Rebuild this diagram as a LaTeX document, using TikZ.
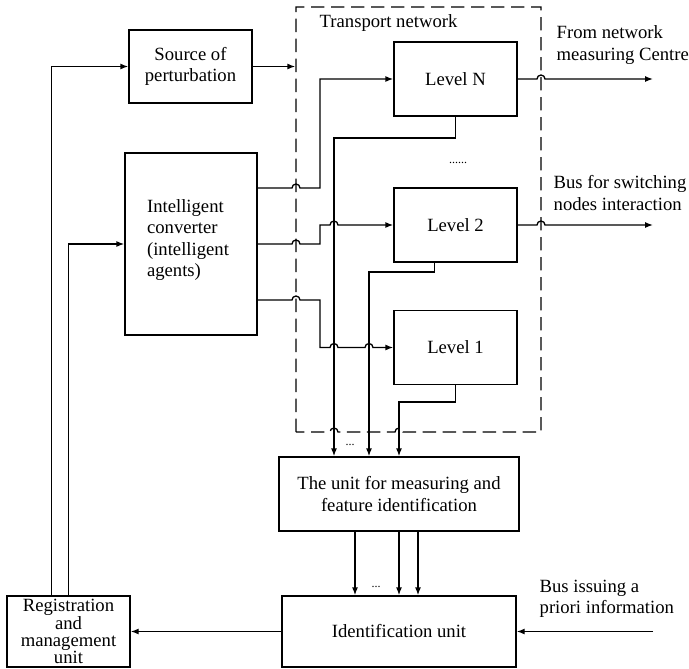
\documentclass[tikz,border=0pt]{standalone}
\usepackage{fontspec}
\setmainfont{Liberation Serif}
\usetikzlibrary{arrows.meta,fit}

\begin{document}
\begin{tikzpicture}[x=0.75pt, y=-0.75pt, line width=1pt,
        font=\fontsize{14}{16}\selectfont,
        block/.style = {draw, inner sep=0pt, align=center},
        level/.style = {block, minimum width=92.25pt, minimum height=55.5pt},
        lbl/.style = {inner sep=0pt, anchor=west, align=left},
        arr/.style = {-{Latex[length=6pt,width=4.5pt]}},
        dots/.style = {font=\fontsize{9}{10}\selectfont, inner sep=0pt},
        hop/.style = {start angle=180, end angle=0, radius=3pt}]
    \useasboundingbox (0,0) rectangle (689,668);

    % blocks
    \node[block, minimum width=92.25pt, minimum height=54.75pt] (src) at (190.5,66.5) {Source of\\perturbation};
    \node[block, minimum width=99pt, minimum height=136.5pt] (conv) at (191,244) {};
    \node[align=left, inner sep=0pt] (convtxt) at (188,240) {Intelligent\\converter\\(intelligent\\agents)};
    \node[level] (lvlN) at (455.5,79) {Level N};
    \node[level] (lvl2) at (455.5,225) {Level 2};
    \node[level] (lvl1) at (455.5,347.5) {Level 1};
    \node[block, minimum width=180pt, minimum height=55.5pt] (meas) at (399,494) {The unit for measuring and\\feature identification};
    \node[block, minimum width=175.5pt, minimum height=53.25pt] (ident) at (399,631.5) {Identification unit};
    \node[block, minimum width=92.25pt, minimum height=53.25pt,
          font=\fontsize{14}{12.8}\selectfont] (reg) at (68.5,631.5) {Registration\\and\\management\\unit};

    % transport network frame
    \node[fit={(296,7) (541,432)}, inner sep=0pt] (net) {};
    \draw[dash pattern=on 10pt off 5pt] (296,432) -- (296,7) -- (541,7) -- (541,432)
        -- (403,432) arc[start angle=0, end angle=180, radius=3pt]
        -- (338,432) arc[start angle=0, end angle=180, radius=3pt] -- cycle;
    \node[lbl] (netlbl) at (319,23) {Transport network};

    % bus labels
    \node[lbl] (lblN) at (556,45) {From network\\measuring Centre};
    \node[lbl] (lbl2) at (553,193) {Bus for switching\\nodes interaction};
    \node[lbl] (lblI) at (539,599) {Bus issuing a\\priori information};

    \node[dots] (dN) at (458,163) {......};
    \node[dots] (dm) at (350,445) {...};
    \node[dots] (di) at (376,587) {...};

    \coordinate (busN) at (653,79);
    \coordinate (bus2) at (653,225);
    \coordinate (busI) at (653,631.5);

    % feedback from registration
    \draw[arr] ([xshift=-13pt]reg.north) |- (src);
    \draw[arr] (reg.north) |- (conv);
    \draw[arr] (src) -- (src -| net.west);

    % converter to levels
    \draw[arr] ([yshift=42pt]conv.east) -- (292,188) arc[hop] -- (320,188) |- (lvlN);
    \draw[arr] (conv.east) -- (292,244) arc[hop] -- (320,244) |- (330,225) arc[hop] -- (lvl2);
    \draw[arr] ([yshift=-42pt]conv.east) -- (292,300) arc[hop] -- (320,300) |- (330,347.5)
        arc[hop] -- (365,347.5) arc[hop] -- (lvl1);

    % levels to the outside buses
    \draw[arr] (lvlN.east) -- (537,79) arc[hop] -- (busN);
    \draw[arr] (lvl2.east) -- (537,225) arc[hop] -- (bus2);

    % levels to measuring unit
    \draw[arr] (lvlN.south) |- (334,138) -- (334,0 |- meas.north);
    \draw[arr] ([xshift=-16pt]lvl2.south) |- (369,272) -- (369,0 |- meas.north);
    \draw[arr] (lvl1.south) |- (399,402) -- (meas);

    \foreach \x in {355,399,418}
        \draw[arr] (\x,0 |- meas.south) -- (\x,0 |- ident.north);

    \draw[arr] (ident) -- (reg);
    \draw[arr] (busI) -- (ident);
\end{tikzpicture}
\end{document}
